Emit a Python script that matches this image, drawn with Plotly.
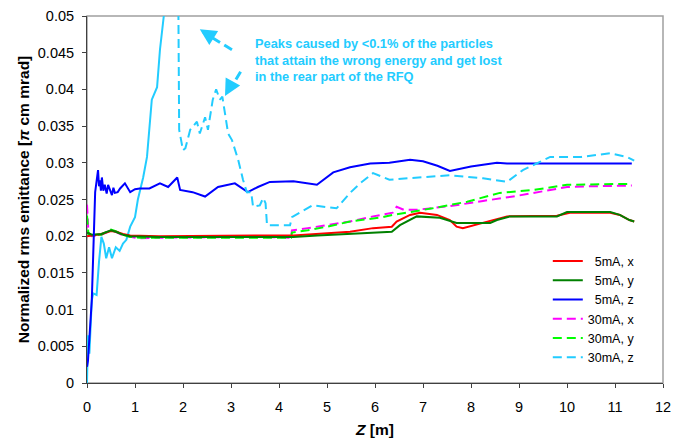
import plotly.graph_objects as go

# ---- data ----
x_5x = [0, 0.1, 0.3, 0.5, 0.6, 0.75, 0.9, 1.5, 2.5, 3.5, 4.3, 4.8, 5.2, 5.48, 5.96, 6.35, 6.45, 6.73, 6.94,
        7.29, 7.56, 7.7, 7.83, 8.25, 8.75, 9.79, 10.06, 10.9, 11.1, 11.3, 11.4]
y_5x = [0.0200, 0.0201, 0.0203, 0.0207, 0.0206, 0.0203, 0.0201, 0.0200, 0.0201, 0.0201, 0.0201, 0.0203, 0.0205,
        0.0206, 0.0211, 0.0213, 0.0220, 0.0229, 0.0232, 0.0229, 0.0222, 0.0213, 0.0211, 0.0218, 0.0227, 0.0228,
        0.0232, 0.0232, 0.0229, 0.0222, 0.0220]

x_5y = [0, 0.1, 0.3, 0.5, 0.6, 0.75, 0.9, 1.5, 2.5, 3.5, 4.3, 4.8, 5.48, 6.35, 6.52, 6.87, 7.35, 7.5, 7.7, 8.4,
        8.54, 8.81, 9.79, 10.0, 10.9, 11.1, 11.3, 11.4]
y_5y = [0.0205, 0.0202, 0.0203, 0.0208, 0.0206, 0.0202, 0.0200, 0.0199, 0.0199, 0.0199, 0.0199, 0.0201, 0.0203,
        0.0206, 0.0215, 0.0227, 0.0225, 0.0222, 0.0218, 0.0218, 0.0222, 0.0227, 0.0227, 0.0233, 0.0233, 0.0229,
        0.0222, 0.0220]

x_5z = [0, 0.02, 0.1, 0.13, 0.17, 0.23, 0.25, 0.27, 0.29, 0.31, 0.34, 0.37, 0.41, 0.44, 0.48, 0.52, 0.55, 0.58,
        0.64, 0.69, 0.79, 0.9, 1.0, 1.1, 1.3, 1.52, 1.69, 1.88, 1.94, 2.2, 2.46, 2.73, 3.08, 3.35, 3.56, 3.81,
        4.3, 4.65, 4.79, 5.13, 5.48, 5.9, 6.3, 6.73, 7.0, 7.3, 7.56, 8.0, 8.54, 8.75, 9.5, 10.0, 10.5, 11.0, 11.35]
y_5z = [0.0022, 0.0030, 0.0113, 0.0180, 0.0260, 0.0290, 0.0268, 0.0276, 0.0262, 0.0280, 0.0262, 0.0270, 0.0258,
        0.0270, 0.0262, 0.0256, 0.0266, 0.0259, 0.0260, 0.0265, 0.0272, 0.0260, 0.0264, 0.0265, 0.0265, 0.0272,
        0.0267, 0.0280, 0.0263, 0.0260, 0.0254, 0.0267, 0.0272, 0.0260, 0.0267, 0.0274, 0.0275, 0.0272, 0.0270,
        0.0287, 0.0294, 0.0299, 0.0300, 0.0304, 0.0302, 0.0296, 0.0289, 0.0295, 0.0300, 0.0299, 0.0299, 0.0300,
        0.0300, 0.0300, 0.0299]

x_30x = [0, 0.03, 0.1, 0.3, 0.5, 0.6, 0.75, 0.9, 1.1, 1.5, 2.5, 3.5, 4.25, 4.27, 4.6, 5.0, 5.48, 5.96, 6.37,
         6.45, 6.6, 6.87, 7.56, 8.25, 8.96, 9.65, 10.0, 10.5, 11.0, 11.35]
y_30x = [0.0243, 0.0205, 0.0200, 0.0202, 0.0208, 0.0206, 0.0201, 0.0199, 0.0197, 0.0198, 0.0199, 0.0199, 0.0198,
         0.0208, 0.0211, 0.0215, 0.0220, 0.0227, 0.0232, 0.0240, 0.0236, 0.0236, 0.0241, 0.0248, 0.0255, 0.0263,
         0.0267, 0.0268, 0.0269, 0.0269]

x_30y = [0, 0.03, 0.1, 0.3, 0.5, 0.6, 0.75, 0.9, 1.1, 1.5, 2.5, 3.5, 4.25, 4.27, 4.6, 5.0, 5.48, 6.17, 6.37,
         7.2, 7.92, 8.6, 9.3, 10.0, 10.5, 11.0, 11.35]
y_30y = [0.0228, 0.0203, 0.0201, 0.0202, 0.0209, 0.0207, 0.0202, 0.0199, 0.0198, 0.0198, 0.0198, 0.0198, 0.0198,
         0.0205, 0.0208, 0.0213, 0.0220, 0.0226, 0.0229, 0.0238, 0.0247, 0.0259, 0.0263, 0.0270, 0.0271, 0.0271,
         0.0271]

# 30mA z: dense rising part (appears solid) and the remainder (dashed)
x_30z_a = [0, 0.02, 0.05, 0.1, 0.13, 0.2, 0.25, 0.3, 0.35, 0.4, 0.46, 0.52, 0.6, 0.68, 0.75, 0.82, 0.9, 1.0,
           1.06, 1.17, 1.25, 1.35, 1.46, 1.52, 1.6, 1.75]
y_30z_a = [0.0, 0.0065, 0.0040, 0.0113, 0.0122, 0.0120, 0.0165, 0.0199, 0.0190, 0.0170, 0.0185, 0.0170, 0.0185,
           0.0180, 0.0190, 0.0195, 0.0213, 0.0226, 0.0250, 0.0280, 0.0308, 0.0386, 0.0403, 0.0454, 0.0500, 0.0560]
x_30z_b = [1.75, 1.9, 1.92, 2.0, 2.05, 2.15, 2.29, 2.35, 2.46, 2.52, 2.62, 2.69, 2.77, 2.82, 2.94, 3.02, 3.15,
           3.25, 3.33, 3.42, 3.46, 3.6, 3.67, 3.72, 3.75, 4.0, 4.23, 4.27, 4.7, 5.2, 5.48, 5.69, 5.96, 6.3, 6.87,
           7.56, 8.25, 8.75, 9.08, 9.65, 10.3, 10.9, 11.25, 11.4]
y_30z_b = [0.0560, 0.0550, 0.0345, 0.0317, 0.0320, 0.0345, 0.0356, 0.0340, 0.0362, 0.0345, 0.0386, 0.0400, 0.0386,
           0.0390, 0.0340, 0.0331, 0.0304, 0.0277, 0.0260, 0.0260, 0.0240, 0.0242, 0.0252, 0.0245, 0.0215, 0.0215,
           0.0215, 0.0226, 0.0242, 0.0238, 0.0259, 0.0272, 0.0286, 0.0277, 0.0280, 0.0283, 0.0279, 0.0274, 0.0290,
           0.0308, 0.0308, 0.0313, 0.0308, 0.0303]

x_ticks = list(range(0, 13))
y_ticks = [0, 0.005, 0.01, 0.015, 0.02, 0.025, 0.03, 0.035, 0.04, 0.045, 0.05]
y_tick_text = ["0", "0.005", "0.01", "0.015", "0.02", "0.025", "0.03", "0.035", "0.04", "0.045", "0.05"]

FONT = "Liberation Sans, Arial, sans-serif"
CYAN = "#22CCFF"
DASH = "9px,5px"

fig = go.Figure()
fig.add_trace(go.Scatter(x=x_30z_a, y=y_30z_a, mode="lines", line=dict(color=CYAN, width=2),
                         showlegend=False, hoverinfo="skip"))
fig.add_trace(go.Scatter(x=x_30x, y=y_30x, mode="lines", name="30mA, x",
                         line=dict(color="#FF00FF", width=2, dash=DASH)))
fig.add_trace(go.Scatter(x=x_30y, y=y_30y, mode="lines", name="30mA, y",
                         line=dict(color="#00FF00", width=2, dash=DASH)))
fig.add_trace(go.Scatter(x=x_5x, y=y_5x, mode="lines", name="  5mA, x",
                         line=dict(color="#FF0000", width=2)))
fig.add_trace(go.Scatter(x=x_5y, y=y_5y, mode="lines", name="  5mA, y",
                         line=dict(color="#008000", width=2)))
fig.add_trace(go.Scatter(x=x_5z, y=y_5z, mode="lines", name="  5mA, z",
                         line=dict(color="#0000FF", width=2)))
fig.add_trace(go.Scatter(x=x_30z_b, y=y_30z_b, mode="lines", name="30mA, z",
                         line=dict(color=CYAN, width=2, dash=DASH)))

# legend order as in the reference
order = {"  5mA, x": 1, "  5mA, y": 2, "  5mA, z": 3, "30mA, x": 4, "30mA, y": 5, "30mA, z": 6}
for tr in fig.data:
    if tr.name in order:
        tr.legendrank = order[tr.name]

# plot frame (grey top/right border)
fig.add_shape(type="rect", xref="paper", yref="paper", x0=0, y0=0, x1=1, y1=1,
              line=dict(color="#A0A0A0", width=1.5), layer="below")

# dashed arrows to the peaks
arrows = [((3.02, 0.0454), (2.42, 0.0478)), ((3.2, 0.0424), (2.95, 0.0397))]
for (x0, y0), (x1, y1) in arrows:
    fig.add_shape(type="line", xref="x", yref="y", x0=x0, y0=y0, x1=x1, y1=y1,
                  line=dict(color=CYAN, width=3, dash="9px,5px"))
fig.add_annotation(x=2.35, y=0.0482, xref="x", yref="y", ax=11, ay=7, text="", showarrow=True,
                   arrowhead=2, arrowsize=1.1, arrowwidth=3, arrowcolor=CYAN)
fig.add_annotation(x=2.875, y=0.0391, xref="x", yref="y", ax=6, ay=-11, text="", showarrow=True,
                   arrowhead=2, arrowsize=1.1, arrowwidth=3, arrowcolor=CYAN)

fig.add_annotation(x=3.45, y=0.0475, xref="x", yref="y", xanchor="left", yanchor="top", align="left",
                   showarrow=False,
                   text="<b>Peaks caused by &lt;0.1% of the particles<br>that attain the wrong energy and get lost"
                        "<br>in the rear part of the RFQ</b>",
                   font=dict(family=FONT, size=12.8, color=CYAN))

fig.update_layout(
    width=678, height=440,
    margin=dict(l=87, r=15, t=16, b=57),
    paper_bgcolor="white", plot_bgcolor="white",
    font=dict(family=FONT, size=14, color="black"),
    legend=dict(x=0.80, y=0.372, xanchor="left", yanchor="top", bgcolor="rgba(0,0,0,0)",
                font=dict(family=FONT, size=12.5), tracegroupgap=0, itemwidth=30),
    xaxis=dict(range=[0, 12], tickvals=x_ticks, ticks="outside", ticklen=4, tickcolor="#404040",
               showline=True, linecolor="#404040", linewidth=1, showgrid=False, zeroline=False,
               tickfont=dict(size=14.5), ticklabelstandoff=7, automargin=False,
               title=dict(text="<b><i>Z</i> [m]</b>", font=dict(size=15.5), standoff=9)),
    yaxis=dict(range=[0, 0.05], tickvals=y_ticks, ticktext=y_tick_text, ticks="outside", ticklen=4,
               tickcolor="#404040", showline=True, linecolor="#404040", linewidth=1, showgrid=False,
               zeroline=False, tickfont=dict(size=14.5), ticklabelstandoff=5, automargin=False,
               title=dict(text="<b>Normalized rms emittance [<i>π</i> cm mrad]</b>", font=dict(size=15.5),
                          standoff=4)),
)

fig.write_html("out.html")
